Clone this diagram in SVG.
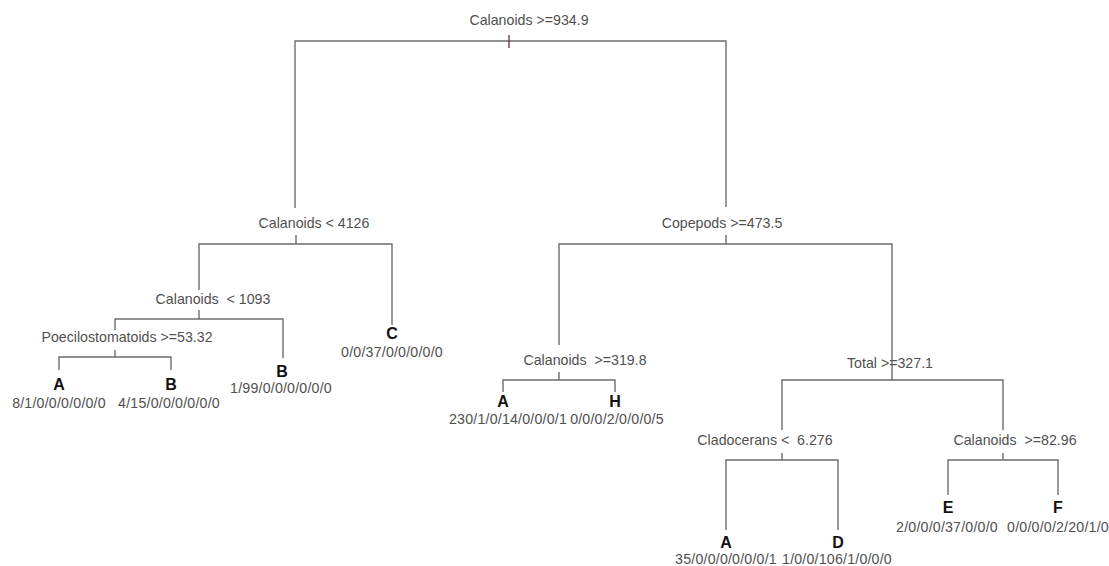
<svg xmlns="http://www.w3.org/2000/svg" width="1109" height="566" viewBox="0 0 1109 566">
<style>
.e{stroke:#6e6e6e;stroke-width:1.4;fill:none}
.t{font-family:"Liberation Sans",Arial,sans-serif;font-size:14.2px;fill:#505050;text-anchor:middle;white-space:pre}
.c{font-family:"Liberation Sans",Arial,sans-serif;font-size:16px;font-weight:bold;fill:#111;text-anchor:middle}
.n{font-family:"Liberation Sans",Arial,sans-serif;font-size:14.2px;fill:#505050;text-anchor:middle;letter-spacing:0.2px}
</style>
<rect width="1109" height="566" fill="#fff"/>
<g id="connectors">
<path class="e" d="M295,208V41H726V207"/>
<path d="M509,35V48" stroke="#7a3545" stroke-width="1.4"/>
<path class="e" d="M296,235V244M199,290V244H392V325"/>
<path class="e" d="M199,310V319M115,330V319H283V358"/>
<path class="e" d="M115,350V357M59,370V357H171V370"/>
<path class="e" d="M726,235V244M559,345V244H892V380"/>
<path class="e" d="M559,372V380M503,392V380H615V392"/>
<path class="e" d="M782,430V380H1003V430"/>
<path class="e" d="M782,453V460M726,530V460H838V530"/>
<path class="e" d="M1003,453V460M948,495V460H1058V495"/>
</g>
<g id="n1"><text class="t" x="529" y="25">Calanoids &gt;=934.9</text></g>
<g id="n2"><text class="t" x="314" y="228">Calanoids &lt; 4126</text></g>
<g id="n3"><text class="t" x="213" y="304">Calanoids  &lt; 1093</text></g>
<g id="n4"><text class="t" x="127" y="342">Poecilostomatoids &gt;=53.32</text></g>
<g id="l1"><text class="c" x="59" y="390">A</text><text class="n" x="59" y="408">8/1/0/0/0/0/0/0</text></g>
<g id="l2"><text class="c" x="171" y="390">B</text><text class="n" x="169" y="408">4/15/0/0/0/0/0/0</text></g>
<g id="l3"><text class="c" x="282" y="377">B</text><text class="n" x="281" y="393">1/99/0/0/0/0/0/0</text></g>
<g id="l4"><text class="c" x="392" y="339">C</text><text class="n" x="392" y="357">0/0/37/0/0/0/0/0</text></g>
<g id="n5"><text class="t" x="722" y="228">Copepods &gt;=473.5</text></g>
<g id="n6"><text class="t" x="585" y="365">Calanoids  &gt;=319.8</text></g>
<g id="l5"><text class="c" x="503" y="407">A</text><text class="n" x="508" y="424">230/1/0/14/0/0/0/1</text></g>
<g id="l6"><text class="c" x="615" y="407">H</text><text class="n" x="617" y="424">0/0/0/2/0/0/0/5</text></g>
<g id="n7"><text class="t" x="890" y="368">Total &gt;=327.1</text></g>
<g id="n8"><text class="t" x="765" y="445">Cladocerans &lt;  6.276</text></g>
<g id="n9"><text class="t" x="1015" y="445">Calanoids  &gt;=82.96</text></g>
<g id="l7"><text class="c" x="726" y="548">A</text><text class="n" x="726" y="564">35/0/0/0/0/0/0/1</text></g>
<g id="l8"><text class="c" x="838" y="548">D</text><text class="n" x="837" y="564">1/0/0/106/1/0/0/0</text></g>
<g id="l9"><text class="c" x="948" y="513">E</text><text class="n" x="947" y="532">2/0/0/0/37/0/0/0</text></g>
<g id="l10"><text class="c" x="1058" y="513">F</text><text class="n" x="1058" y="532">0/0/0/0/2/20/1/0</text></g>
</svg>
